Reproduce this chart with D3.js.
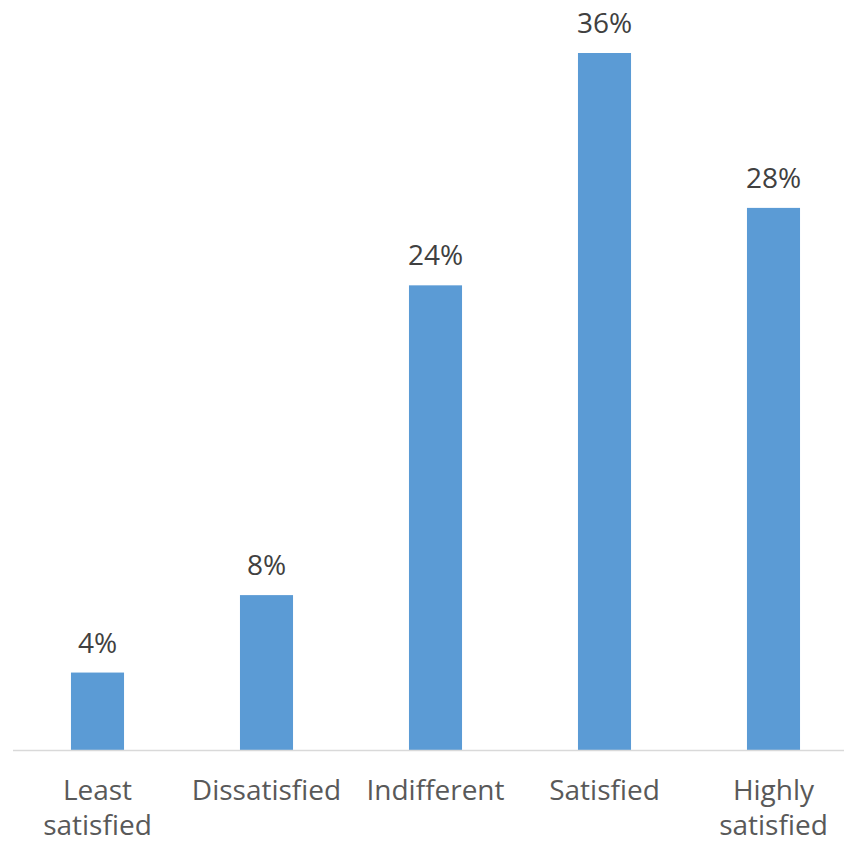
<!DOCTYPE html>
<html>
<head>
<meta charset="utf-8">
<script src="https://cdn.jsdelivr.net/npm/d3@7"></script>
<style>
  html, body { margin: 0; padding: 0; background: #fff; }
  svg { display: block; }
  text { font-family: "Open Sans", "Noto Sans", sans-serif; }
</style>
</head>
<body>
<svg id="chart" width="844" height="843"></svg>
<script>
// Satisfaction levels and share of respondents (%)
const categories = ["Least satisfied", "Dissatisfied", "Indifferent", "Satisfied", "Highly satisfied"];
const categoryLines = [["Least", "satisfied"], ["Dissatisfied"], ["Indifferent"], ["Satisfied"], ["Highly", "satisfied"]];
const values = [4, 8, 24, 36, 28];

const svg = d3.select("#chart");
const W = 844, H = 843;
const baseY = 750;

const x = d3.scaleBand()
  .domain(categories)
  .range([13, 858])
  .paddingInner(0.686)
  .paddingOuter(0.343);

const y = d3.scaleLinear()
  .domain([0, 36])
  .range([baseY, 53]);

// bars
svg.append("g")
  .selectAll("rect")
  .data(values)
  .join("rect")
  .attr("x", (d, i) => x(categories[i]))
  .attr("y", d => y(d))
  .attr("width", x.bandwidth())
  .attr("height", d => baseY - y(d))
  .attr("fill", "#5B9BD5");

// category axis line
svg.append("line")
  .attr("x1", 13).attr("x2", W)
  .attr("y1", baseY + 0.5).attr("y2", baseY + 0.5)
  .attr("stroke", "#d9d9d9")
  .attr("stroke-width", 1.5);

// value labels
svg.append("g")
  .selectAll("text")
  .data(values)
  .join("text")
  .attr("x", (d, i) => x(categories[i]) + x.bandwidth() / 2)
  .attr("y", d => y(d) - 20)
  .attr("text-anchor", "middle")
  .attr("font-size", 28)
  .attr("fill", "#404040")
  .text(d => d + "%");

// category labels
const cat = svg.append("g")
  .selectAll("text")
  .data(categoryLines)
  .join("text")
  .attr("x", (d, i) => x(categories[i]) + x.bandwidth() / 2)
  .attr("y", 800)
  .attr("text-anchor", "middle")
  .attr("font-size", 28)
  .attr("fill", "#595959");

cat.selectAll("tspan")
  .data(d => d)
  .join("tspan")
  .attr("x", function () { return d3.select(this.parentNode).attr("x"); })
  .attr("dy", (d, i) => i === 0 ? 0 : 35)
  .text(d => d);
</script>
</body>
</html>
